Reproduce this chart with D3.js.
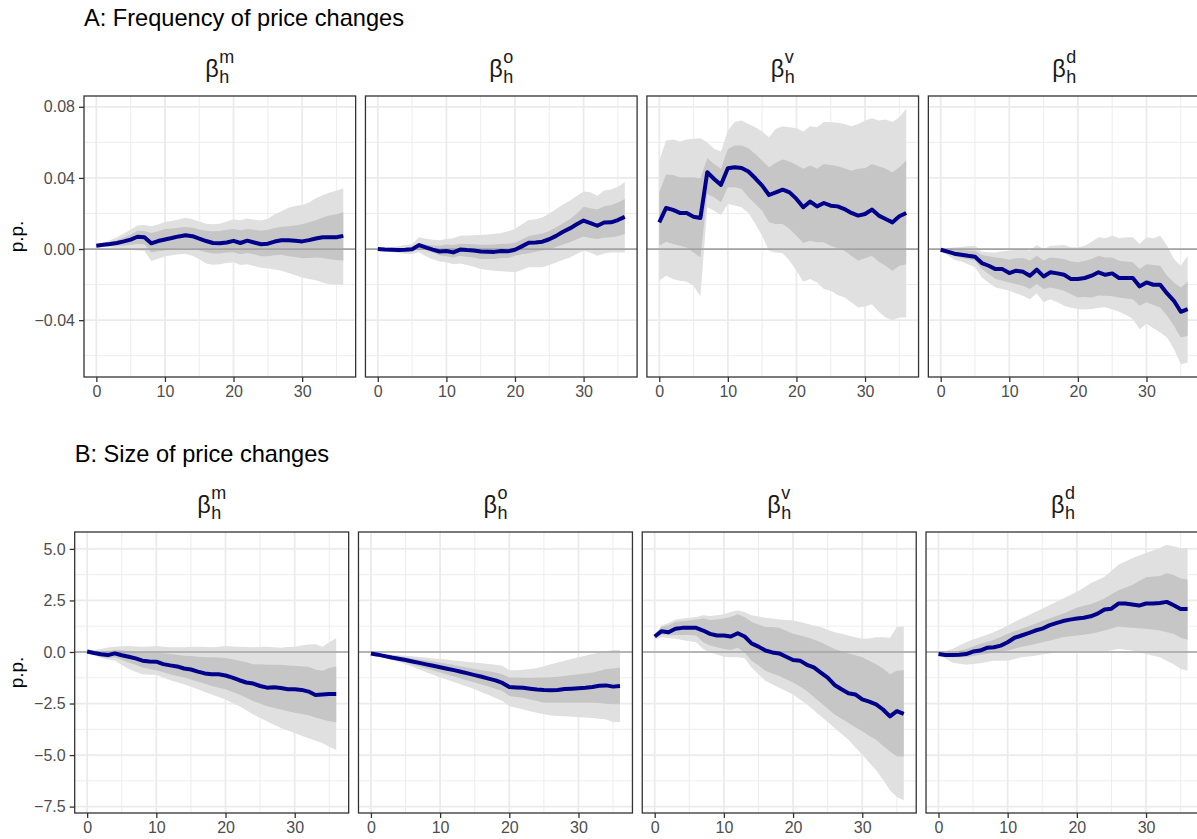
<!DOCTYPE html>
<html>
<head>
<meta charset="utf-8">
<script src="https://cdn.jsdelivr.net/npm/d3@7"></script>
<style>
  html, body { margin: 0; padding: 0; background: #fff; }
  svg { display: block; font-family: "Liberation Sans", Arial, Helvetica, sans-serif; }
</style>
</head>
<body>
<svg id="chart" width="1197" height="839"></svg>
<script>
// ---------------- DATA ----------------
const horizons = [0,1,2,3,4,5,6,7,8,9,10,11,12,13,14,15,16,17,18,19,20,21,22,23,24,25,26,27,28,29,30,31,32,33,34,35,36];
const xTicks = [0, 10, 20, 30];
const xMinor = [5, 15, 25, 35];
const shockLabels = ["m", "o", "v", "d"];
const rowTitles = ["A: Frequency of price changes", "B: Size of price changes"];
const yTicksA = [-0.04, 0.00, 0.04, 0.08];
const yMinorA = [-0.06, -0.02, 0.02, 0.06];
const yTicksB = [-7.5, -5.0, -2.5, 0.0, 2.5, 5.0];
const yMinorB = [-6.25, -3.75, -1.25, 1.25, 3.75];
const yLabel = "p.p.";

// Panel A, shock m
const A_m_est = [0.0019,0.0024,0.0028,0.0034,0.0043,0.0053,0.0069,0.0066,0.0032,0.0045,0.0054,0.0062,0.0071,0.0077,0.0072,0.0058,0.0045,0.0034,0.0032,0.0037,0.0046,0.0034,0.0047,0.0037,0.0027,0.0030,0.0042,0.0049,0.0049,0.0046,0.0043,0.0050,0.0059,0.0066,0.0066,0.0066,0.0074];
const A_m_hi1 = [0.0021,0.0030,0.0038,0.0050,0.0065,0.0082,0.0103,0.0102,0.0090,0.0100,0.0113,0.0115,0.0120,0.0124,0.0120,0.0110,0.0103,0.0100,0.0102,0.0108,0.0113,0.0105,0.0112,0.0108,0.0103,0.0108,0.0118,0.0125,0.0128,0.0132,0.0140,0.0150,0.0162,0.0178,0.0188,0.0195,0.0207];
const A_m_lo1 = [0.0017,0.0018,0.0018,0.0018,0.0020,0.0022,0.0030,0.0025,-0.0020,-0.0012,-0.0008,-0.0002,0.0003,0.0005,0.0002,-0.0008,-0.0018,-0.0025,-0.0025,-0.0020,-0.0018,-0.0030,-0.0022,-0.0030,-0.0040,-0.0040,-0.0035,-0.0032,-0.0040,-0.0045,-0.0052,-0.0050,-0.0048,-0.0050,-0.0058,-0.0062,-0.0064];
const A_m_hi2 = [0.0024,0.0035,0.0050,0.0066,0.0088,0.0110,0.0133,0.0135,0.0128,0.0138,0.0152,0.0158,0.0166,0.0176,0.0168,0.0155,0.0142,0.0140,0.0142,0.0155,0.0167,0.0162,0.0172,0.0165,0.0160,0.0170,0.0195,0.0212,0.0232,0.0242,0.0248,0.0262,0.0285,0.0302,0.0318,0.0328,0.0342];
const A_m_lo2 = [0.0014,0.0012,0.0008,0.0004,0.0000,-0.0005,-0.0008,-0.0010,-0.0068,-0.0055,-0.0042,-0.0035,-0.0030,-0.0028,-0.0038,-0.0058,-0.0082,-0.0088,-0.0085,-0.0078,-0.0075,-0.0090,-0.0085,-0.0095,-0.0105,-0.0110,-0.0115,-0.0122,-0.0135,-0.0148,-0.0160,-0.0168,-0.0175,-0.0188,-0.0198,-0.0200,-0.0201];

// Panel A, shock o
const A_o_est = [0.0000,-0.0003,-0.0004,-0.0005,-0.0004,-0.0001,0.0022,0.0009,-0.0003,-0.0014,-0.0011,-0.0019,-0.0003,-0.0006,-0.0008,-0.0014,-0.0015,-0.0016,-0.0011,-0.0013,-0.0004,0.0015,0.0035,0.0037,0.0041,0.0055,0.0074,0.0097,0.0116,0.0139,0.0160,0.0146,0.0131,0.0149,0.0150,0.0163,0.0181];
const A_o_hi1 = [0.0002,0.0002,0.0003,0.0004,0.0006,0.0009,0.0034,0.0025,0.0020,0.0018,0.0025,0.0022,0.0030,0.0028,0.0027,0.0024,0.0024,0.0026,0.0030,0.0030,0.0036,0.0054,0.0074,0.0080,0.0088,0.0102,0.0122,0.0145,0.0168,0.0198,0.0238,0.0230,0.0222,0.0240,0.0246,0.0262,0.0282];
const A_o_lo1 = [-0.0003,-0.0008,-0.0010,-0.0012,-0.0013,-0.0012,0.0006,-0.0008,-0.0020,-0.0035,-0.0041,-0.0048,-0.0038,-0.0045,-0.0048,-0.0056,-0.0056,-0.0056,-0.0050,-0.0050,-0.0038,-0.0030,-0.0024,-0.0015,-0.0008,0.0000,0.0012,0.0025,0.0038,0.0055,0.0071,0.0062,0.0056,0.0063,0.0066,0.0072,0.0085];
const A_o_hi2 = [0.0005,0.0008,0.0012,0.0016,0.0022,0.0028,0.0066,0.0058,0.0052,0.0050,0.0056,0.0060,0.0075,0.0076,0.0077,0.0079,0.0082,0.0086,0.0090,0.0100,0.0113,0.0140,0.0163,0.0168,0.0178,0.0200,0.0225,0.0250,0.0272,0.0298,0.0323,0.0319,0.0300,0.0329,0.0335,0.0351,0.0376];
const A_o_lo2 = [-0.0005,-0.0012,-0.0017,-0.0022,-0.0026,-0.0028,-0.0018,-0.0040,-0.0058,-0.0070,-0.0075,-0.0085,-0.0082,-0.0090,-0.0100,-0.0113,-0.0118,-0.0122,-0.0125,-0.0128,-0.0131,-0.0118,-0.0103,-0.0103,-0.0103,-0.0090,-0.0075,-0.0062,-0.0047,-0.0028,-0.0009,-0.0020,-0.0038,-0.0025,-0.0019,-0.0019,-0.0019];

// Panel A, shock v
const A_v_est = [0.0150,0.0231,0.0220,0.0203,0.0203,0.0182,0.0175,0.0432,0.0394,0.0361,0.0454,0.0460,0.0456,0.0436,0.0398,0.0357,0.0304,0.0319,0.0334,0.0319,0.0282,0.0235,0.0267,0.0240,0.0259,0.0244,0.0240,0.0225,0.0203,0.0188,0.0197,0.0222,0.0188,0.0169,0.0150,0.0184,0.0203];
const A_v_hi1 = [0.0319,0.0419,0.0417,0.0404,0.0404,0.0404,0.0398,0.0511,0.0479,0.0451,0.0563,0.0582,0.0582,0.0567,0.0535,0.0498,0.0460,0.0485,0.0503,0.0492,0.0473,0.0451,0.0470,0.0451,0.0479,0.0473,0.0466,0.0455,0.0441,0.0451,0.0455,0.0479,0.0466,0.0451,0.0432,0.0460,0.0498];
const A_v_lo1 = [0.0019,0.0041,0.0028,0.0019,0.0009,-0.0019,-0.0047,0.0310,0.0291,0.0263,0.0347,0.0347,0.0338,0.0291,0.0254,0.0216,0.0150,0.0141,0.0141,0.0113,0.0075,0.0034,0.0047,0.0038,0.0038,0.0019,0.0004,-0.0009,-0.0038,-0.0066,-0.0052,-0.0038,-0.0071,-0.0094,-0.0122,-0.0094,-0.0085];
const A_v_hi2 = [0.0498,0.0610,0.0616,0.0605,0.0616,0.0620,0.0623,0.0601,0.0563,0.0548,0.0667,0.0714,0.0723,0.0704,0.0685,0.0661,0.0629,0.0676,0.0691,0.0685,0.0680,0.0661,0.0691,0.0685,0.0714,0.0714,0.0710,0.0704,0.0691,0.0704,0.0723,0.0736,0.0723,0.0729,0.0714,0.0742,0.0789];
const A_v_lo2 = [-0.0178,-0.0150,-0.0169,-0.0178,-0.0184,-0.0207,-0.0267,0.0235,0.0216,0.0192,0.0254,0.0245,0.0235,0.0203,0.0141,0.0075,-0.0009,-0.0019,-0.0024,-0.0066,-0.0122,-0.0184,-0.0169,-0.0188,-0.0225,-0.0235,-0.0259,-0.0272,-0.0300,-0.0329,-0.0323,-0.0310,-0.0353,-0.0385,-0.0400,-0.0385,-0.0385];

// Panel A, shock d
const A_d_est = [-0.0004,-0.0015,-0.0026,-0.0032,-0.0038,-0.0043,-0.0079,-0.0094,-0.0113,-0.0113,-0.0135,-0.0122,-0.0128,-0.0150,-0.0116,-0.0154,-0.0131,-0.0137,-0.0145,-0.0169,-0.0169,-0.0163,-0.0150,-0.0131,-0.0145,-0.0137,-0.0163,-0.0163,-0.0163,-0.0210,-0.0188,-0.0201,-0.0201,-0.0250,-0.0291,-0.0353,-0.0338];
const A_d_hi1 = [-0.0001,-0.0002,-0.0004,-0.0006,-0.0008,-0.0009,-0.0034,-0.0040,-0.0047,-0.0052,-0.0060,-0.0052,-0.0050,-0.0064,-0.0038,-0.0064,-0.0047,-0.0052,-0.0056,-0.0070,-0.0075,-0.0068,-0.0056,-0.0038,-0.0047,-0.0047,-0.0066,-0.0070,-0.0075,-0.0113,-0.0085,-0.0090,-0.0094,-0.0150,-0.0188,-0.0216,-0.0184];
const A_d_lo1 = [-0.0007,-0.0025,-0.0041,-0.0050,-0.0058,-0.0066,-0.0113,-0.0140,-0.0169,-0.0178,-0.0188,-0.0198,-0.0207,-0.0225,-0.0197,-0.0225,-0.0216,-0.0225,-0.0235,-0.0255,-0.0272,-0.0270,-0.0272,-0.0262,-0.0263,-0.0265,-0.0272,-0.0278,-0.0282,-0.0319,-0.0300,-0.0315,-0.0329,-0.0376,-0.0432,-0.0498,-0.0488];
const A_d_hi2 = [0.0002,0.0006,0.0009,0.0012,0.0015,0.0019,-0.0015,-0.0018,-0.0019,-0.0012,-0.0009,-0.0004,0.0000,-0.0009,0.0023,0.0000,0.0019,0.0020,0.0023,0.0010,0.0009,0.0019,0.0041,0.0066,0.0060,0.0075,0.0060,0.0066,0.0066,0.0028,0.0066,0.0060,0.0075,0.0019,-0.0056,-0.0094,-0.0038];
const A_d_lo2 = [-0.0010,-0.0035,-0.0060,-0.0070,-0.0085,-0.0103,-0.0160,-0.0190,-0.0216,-0.0225,-0.0235,-0.0250,-0.0263,-0.0282,-0.0250,-0.0300,-0.0282,-0.0300,-0.0319,-0.0330,-0.0338,-0.0340,-0.0338,-0.0330,-0.0328,-0.0340,-0.0353,-0.0370,-0.0394,-0.0451,-0.0420,-0.0445,-0.0469,-0.0498,-0.0563,-0.0648,-0.0638];

// Panel B, shock m
const B_m_est = [0.02,-0.05,-0.11,-0.15,-0.07,-0.16,-0.23,-0.31,-0.42,-0.46,-0.47,-0.59,-0.65,-0.70,-0.80,-0.85,-0.95,-1.04,-1.08,-1.08,-1.14,-1.24,-1.37,-1.48,-1.53,-1.65,-1.73,-1.71,-1.75,-1.81,-1.81,-1.84,-1.92,-2.09,-2.06,-2.04,-2.04];
const B_m_hi1 = [0.02,0.00,-0.02,0.04,0.10,0.08,0.04,0.01,-0.02,-0.02,-0.03,-0.06,-0.10,-0.14,-0.18,-0.20,-0.23,-0.25,-0.26,-0.27,-0.29,-0.35,-0.42,-0.50,-0.59,-0.60,-0.62,-0.62,-0.62,-0.65,-0.67,-0.70,-0.72,-0.85,-0.91,-0.78,-0.70];
const B_m_lo1 = [0.00,-0.12,-0.23,-0.30,-0.25,-0.39,-0.51,-0.62,-0.75,-0.82,-0.88,-0.98,-1.08,-1.16,-1.24,-1.34,-1.44,-1.54,-1.65,-1.73,-1.81,-1.94,-2.06,-2.22,-2.38,-2.50,-2.63,-2.71,-2.79,-2.87,-2.95,-3.01,-3.07,-3.18,-3.28,-3.36,-3.41];
const B_m_hi2 = [0.03,0.10,0.15,0.22,0.26,0.28,0.29,0.27,0.26,0.27,0.29,0.26,0.23,0.23,0.23,0.25,0.26,0.24,0.23,0.26,0.29,0.27,0.26,0.24,0.23,0.25,0.26,0.23,0.20,0.24,0.26,0.32,0.36,0.38,0.26,0.47,0.67];
const B_m_lo2 = [-0.02,-0.16,-0.29,-0.36,-0.42,-0.62,-0.83,-0.96,-1.08,-1.10,-1.11,-1.24,-1.37,-1.47,-1.57,-1.69,-1.81,-1.94,-2.06,-2.18,-2.30,-2.47,-2.63,-2.83,-3.03,-3.20,-3.36,-3.53,-3.69,-3.81,-3.93,-4.06,-4.18,-4.30,-4.42,-4.60,-4.75];

// Panel B, shock o
const B_o_est = [-0.07,-0.13,-0.20,-0.27,-0.33,-0.39,-0.46,-0.53,-0.60,-0.67,-0.74,-0.81,-0.88,-0.96,-1.04,-1.12,-1.20,-1.29,-1.38,-1.50,-1.70,-1.72,-1.74,-1.78,-1.82,-1.84,-1.85,-1.84,-1.80,-1.78,-1.76,-1.74,-1.70,-1.64,-1.62,-1.68,-1.65];
const B_o_hi1 = [-0.06,-0.10,-0.14,-0.18,-0.22,-0.26,-0.31,-0.36,-0.41,-0.46,-0.51,-0.57,-0.63,-0.70,-0.76,-0.83,-0.88,-0.94,-1.00,-1.08,-1.24,-1.24,-1.25,-1.25,-1.24,-1.24,-1.22,-1.20,-1.16,-1.12,-1.08,-1.04,-0.99,-0.92,-0.83,-0.80,-0.75];
const B_o_lo1 = [-0.08,-0.16,-0.25,-0.34,-0.42,-0.51,-0.61,-0.70,-0.80,-0.90,-0.99,-1.09,-1.19,-1.29,-1.38,-1.48,-1.58,-1.68,-1.78,-1.89,-2.14,-2.18,-2.22,-2.30,-2.38,-2.46,-2.46,-2.46,-2.46,-2.46,-2.46,-2.46,-2.46,-2.48,-2.51,-2.53,-2.54];
const B_o_hi2 = [-0.05,-0.08,-0.11,-0.13,-0.16,-0.18,-0.21,-0.24,-0.27,-0.31,-0.34,-0.37,-0.41,-0.44,-0.48,-0.51,-0.55,-0.58,-0.62,-0.67,-0.88,-0.88,-0.86,-0.83,-0.78,-0.69,-0.59,-0.51,-0.42,-0.34,-0.26,-0.18,-0.10,-0.04,0.03,0.10,0.10];
const B_o_lo2 = [-0.09,-0.19,-0.29,-0.39,-0.49,-0.59,-0.72,-0.85,-0.98,-1.11,-1.24,-1.35,-1.46,-1.58,-1.69,-1.81,-1.95,-2.09,-2.23,-2.38,-2.63,-2.71,-2.79,-2.87,-2.95,-3.02,-3.08,-3.10,-3.12,-3.14,-3.16,-3.18,-3.20,-3.24,-3.28,-3.39,-3.39];

// Panel B, shock v
const B_v_est = [0.75,1.01,0.96,1.13,1.17,1.17,1.17,1.04,0.88,0.80,0.80,0.75,0.91,0.75,0.42,0.26,0.07,-0.02,-0.07,-0.23,-0.39,-0.42,-0.62,-0.75,-1.00,-1.24,-1.60,-1.81,-2.00,-2.06,-2.30,-2.41,-2.54,-2.79,-3.12,-2.87,-3.00];
const B_v_hi1 = [0.80,1.24,1.30,1.45,1.50,1.53,1.57,1.62,1.55,1.58,1.62,1.70,1.83,1.70,1.45,1.33,1.21,1.21,1.18,1.03,0.88,0.80,0.72,0.60,0.47,0.30,0.15,0.04,-0.07,-0.16,-0.26,-0.42,-0.59,-0.80,-1.08,-0.91,-0.88];
const B_v_lo1 = [0.70,0.85,0.82,0.82,0.82,0.82,0.80,0.47,0.31,0.23,0.15,0.10,0.20,-0.02,-0.42,-0.66,-0.91,-1.04,-1.16,-1.32,-1.48,-1.68,-1.89,-2.18,-2.46,-2.75,-3.03,-3.24,-3.44,-3.65,-3.85,-4.06,-4.26,-4.55,-4.83,-5.07,-5.07];
const B_v_hi2 = [0.85,1.29,1.40,1.57,1.62,1.66,1.70,1.78,1.74,1.78,1.83,1.94,2.02,1.94,1.78,1.72,1.66,1.62,1.57,1.55,1.53,1.45,1.37,1.29,1.21,1.08,0.96,0.88,0.80,0.72,0.64,0.66,0.72,0.72,0.69,1.21,1.24];
const B_v_lo2 = [0.60,0.72,0.68,0.64,0.58,0.52,0.47,0.15,-0.02,-0.12,-0.23,-0.25,-0.26,-0.30,-0.75,-1.08,-1.40,-1.56,-1.73,-1.89,-2.06,-2.30,-2.54,-2.83,-3.12,-3.40,-3.69,-3.97,-4.26,-4.62,-4.99,-5.36,-5.73,-6.20,-6.70,-7.03,-7.19];

// Panel B, shock d
const B_d_est = [-0.10,-0.15,-0.15,-0.13,-0.10,0.02,0.07,0.20,0.23,0.31,0.47,0.69,0.80,0.91,1.04,1.13,1.29,1.40,1.50,1.57,1.62,1.66,1.73,1.86,2.06,2.10,2.35,2.35,2.30,2.25,2.35,2.35,2.38,2.43,2.27,2.09,2.09];
const B_d_hi1 = [-0.08,-0.05,-0.02,0.06,0.15,0.27,0.39,0.49,0.59,0.73,0.88,1.00,1.13,1.25,1.37,1.50,1.62,1.74,1.86,2.00,2.15,2.24,2.32,2.45,2.59,2.80,3.00,3.12,3.25,3.44,3.62,3.66,3.69,3.82,3.74,3.57,3.52];
const B_d_lo1 = [-0.12,-0.20,-0.26,-0.26,-0.26,-0.20,-0.13,-0.08,-0.02,0.02,0.07,0.16,0.26,0.32,0.39,0.47,0.55,0.63,0.72,0.76,0.80,0.84,0.88,0.96,1.04,1.14,1.24,1.20,1.17,1.15,1.13,1.08,1.04,0.96,0.88,0.69,0.59];
const B_d_hi2 = [-0.06,0.05,0.15,0.31,0.47,0.60,0.72,0.84,0.96,1.12,1.29,1.45,1.62,1.78,1.94,2.10,2.27,2.43,2.59,2.75,2.92,3.12,3.33,3.49,3.65,3.94,4.23,4.39,4.55,4.68,4.80,4.92,5.04,5.20,5.12,5.04,5.04];
const B_d_lo2 = [-0.13,-0.32,-0.51,-0.57,-0.62,-0.58,-0.55,-0.48,-0.42,-0.42,-0.42,-0.34,-0.26,-0.22,-0.18,-0.12,-0.07,-0.02,0.03,0.03,0.03,0.00,-0.02,0.00,0.03,0.09,0.15,0.11,0.07,-0.02,-0.10,-0.18,-0.26,-0.42,-0.59,-0.83,-0.91];

// ---------------- BUILD ----------------
const rows = [
  { title: rowTitles[0], ticks: yTicksA, minor: yMinorA, fmt: d3.format(".2f"),
    panels: [
      {est:A_m_est, hi1:A_m_hi1, lo1:A_m_lo1, hi2:A_m_hi2, lo2:A_m_lo2},
      {est:A_o_est, hi1:A_o_hi1, lo1:A_o_lo1, hi2:A_o_hi2, lo2:A_o_lo2},
      {est:A_v_est, hi1:A_v_hi1, lo1:A_v_lo1, hi2:A_v_hi2, lo2:A_v_lo2},
      {est:A_d_est, hi1:A_d_hi1, lo1:A_d_lo1, hi2:A_d_hi2, lo2:A_d_lo2}
    ], left: 84 },
  { title: rowTitles[1], ticks: yTicksB, minor: yMinorB, fmt: d3.format(".1f"),
    panels: [
      {est:B_m_est, hi1:B_m_hi1, lo1:B_m_lo1, hi2:B_m_hi2, lo2:B_m_lo2},
      {est:B_o_est, hi1:B_o_hi1, lo1:B_o_lo1, hi2:B_o_hi2, lo2:B_o_lo2},
      {est:B_v_est, hi1:B_v_hi1, lo1:B_v_lo1, hi2:B_v_hi2, lo2:B_v_lo2},
      {est:B_d_est, hi1:B_d_hi1, lo1:B_d_lo1, hi2:B_d_hi2, lo2:B_d_lo2}
    ], left: 74.7 }
];

const svg = d3.select("#chart");
const rightEdge = 1200;
const gap = 9.8;
const rowOffset = 436;
const panelTop = 96, panelBottom = 377;
const tickColor = "#333333", labelColor = "#4D4D4D";

function fmtMinus(s) { return s.replace("-", "\u2212"); }

rows.forEach((row, ri) => {
  const off = ri * rowOffset;
  const g = svg.append("g").attr("transform", `translate(0,${off})`);
  const pw = (rightEdge - row.left - 3 * gap) / 4;

  // y domain: data range + 5% expansion
  let mn = Infinity, mx = -Infinity;
  row.panels.forEach(p => { mn = Math.min(mn, d3.min(p.lo2), d3.min(p.est)); mx = Math.max(mx, d3.max(p.hi2), d3.max(p.est)); });
  const pad = (mx - mn) * 0.05;
  const y = d3.scaleLinear().domain([mn - pad, mx + pad]).range([panelBottom, panelTop]);

  // Row title
  g.append("text").attr("x", row.left).attr("y", 26)
    .attr("font-size", 23.6).attr("fill", "#000").text(row.title);

  // y-axis title
  g.append("text").attr("transform", `translate(23,${(panelTop + panelBottom) / 2}) rotate(-90)`)
    .attr("text-anchor", "middle").attr("font-size", 19).attr("fill", "#000").text(yLabel);

  row.panels.forEach((p, pi) => {
    const x0 = row.left + pi * (pw + gap);
    const x = d3.scaleLinear().domain([-1.8, 37.8]).range([x0, x0 + pw]);
    const pg = g.append("g");

    // background grid
    pg.append("rect").attr("x", x0).attr("y", panelTop).attr("width", pw).attr("height", panelBottom - panelTop).attr("fill", "#fff");
    const grid = pg.append("g");
    row.minor.forEach(v => grid.append("line").attr("x1", x0).attr("x2", x0 + pw).attr("y1", y(v)).attr("y2", y(v)).attr("stroke", "#EBEBEB").attr("stroke-width", 0.9));
    xMinor.forEach(v => grid.append("line").attr("x1", x(v)).attr("x2", x(v)).attr("y1", panelTop).attr("y2", panelBottom).attr("stroke", "#EBEBEB").attr("stroke-width", 0.9));
    row.ticks.forEach(v => grid.append("line").attr("x1", x0).attr("x2", x0 + pw).attr("y1", y(v)).attr("y2", y(v)).attr("stroke", "#EBEBEB").attr("stroke-width", 1.8));
    xTicks.forEach(v => grid.append("line").attr("x1", x(v)).attr("x2", x(v)).attr("y1", panelTop).attr("y2", panelBottom).attr("stroke", "#EBEBEB").attr("stroke-width", 1.8));

    // ribbons
    const area = (lo, hi) => d3.area().x((d, i) => x(horizons[i])).y0((d, i) => y(lo[i])).y1((d, i) => y(hi[i]))(horizons);
    pg.append("path").attr("d", area(p.lo2, p.hi2)).attr("fill", "#E0E0E0");
    pg.append("path").attr("d", area(p.lo1, p.hi1)).attr("fill", "#C6C6C6");

    // zero line
    pg.append("line").attr("x1", x0).attr("x2", x0 + pw).attr("y1", y(0)).attr("y2", y(0))
      .attr("stroke", "#A3A3A3").attr("stroke-width", 1.7);

    // estimate line
    const line = d3.line().x((d, i) => x(horizons[i])).y((d, i) => y(p.est[i]));
    pg.append("path").attr("d", line(horizons)).attr("fill", "none")
      .attr("stroke", "#00008B").attr("stroke-width", 4).attr("stroke-linejoin", "round");

    // border
    pg.append("rect").attr("x", x0).attr("y", panelTop).attr("width", pw).attr("height", panelBottom - panelTop)
      .attr("fill", "none").attr("stroke", tickColor).attr("stroke-width", 1.3);

    // x axis
    const xa = pg.append("g").attr("transform", `translate(0,${panelBottom})`)
      .call(d3.axisBottom(x).tickValues(xTicks).tickSize(5).tickPadding(4).tickFormat(d3.format("d")));
    xa.select(".domain").remove();
    xa.selectAll(".tick line").attr("stroke", tickColor).attr("stroke-width", 1.3);
    xa.selectAll(".tick text").attr("fill", labelColor).attr("font-size", 16)
      .attr("font-family", "Liberation Sans, Arial, sans-serif");

    // y axis on first panel
    if (pi === 0) {
      const ya = pg.append("g").attr("transform", `translate(${x0},0)`)
        .call(d3.axisLeft(y).tickValues(row.ticks).tickSize(5).tickPadding(4).tickFormat(v => fmtMinus(row.fmt(v))));
      ya.select(".domain").remove();
      ya.selectAll(".tick line").attr("stroke", tickColor).attr("stroke-width", 1.3);
      ya.selectAll(".tick text").attr("fill", labelColor).attr("font-size", 16)
        .attr("font-family", "Liberation Sans, Arial, sans-serif");
    }

    // strip label: beta_h^shock
    const cx = x0 + pw / 2;
    const lab = pg.append("g");
    const beta = lab.append("text").attr("x", 0).attr("y", 77).attr("font-size", 23.5).attr("fill", "#1A1A1A").text("\u03B2");
    const bw = beta.node().getComputedTextLength();
    const sup = lab.append("text").attr("x", bw + 0.5).attr("y", 63).attr("font-size", 18).attr("fill", "#1A1A1A").text(shockLabels[pi]);
    const sub = lab.append("text").attr("x", bw + 0.5).attr("y", 83).attr("font-size", 18).attr("fill", "#1A1A1A").text("h");
    const tw = bw + 0.5 + Math.max(sup.node().getComputedTextLength(), sub.node().getComputedTextLength());
    lab.attr("transform", `translate(${cx - tw / 2},0)`);
  });
});
</script>
</body>
</html>
